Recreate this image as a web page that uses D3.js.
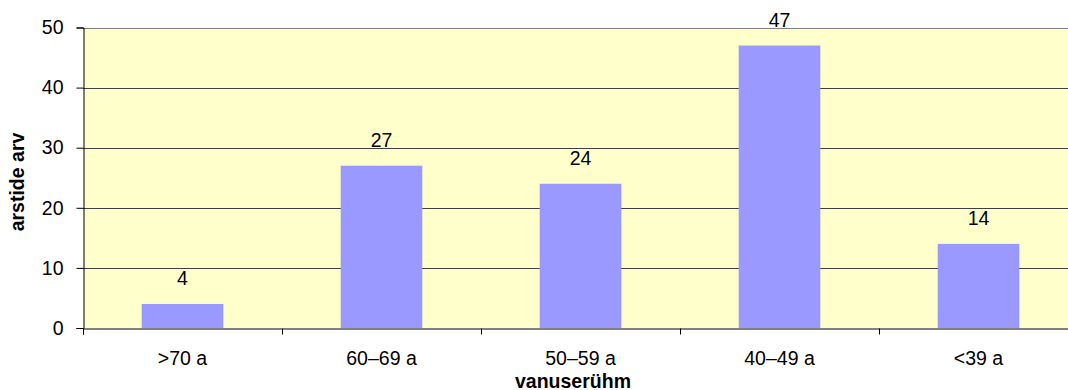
<!DOCTYPE html>
<html><head><meta charset="utf-8">
<script src="https://cdn.jsdelivr.net/npm/d3@7"></script>
<style>body{margin:0;background:#fff}svg{display:block;font-family:"Liberation Sans",Arial,sans-serif}</style>
</head><body>
<svg id="c" width="1068" height="390"></svg>
<script>
const categories = [">70 a", "60–69 a", "50–59 a", "40–49 a", "<39 a"];
const values = [4, 27, 24, 47, 14];
const yTicks = [0, 10, 20, 30, 40, 50];
const xTitle = "vanuserühm";
const yTitle = "arstide arv";

(function () {
const svg = d3.select("#c");
const FS = 19.5;
const pL = 83, pR = 1078, pT = 27.5, pB = 328;
const x = d3.scaleBand().domain(categories).range([pL, pR]).paddingInner(0.59).paddingOuter(0.295);
const y = d3.scaleLinear().domain([0, 50]).range([pB, pT]);

svg.append("rect").attr("x", pL).attr("y", pT).attr("width", pR - pL).attr("height", pB - pT).attr("fill", "#FFFFCC");

svg.append("g").selectAll("line").data(yTicks.filter(d => d > 0)).join("line")
  .attr("x1", pL).attr("x2", pR)
  .attr("y1", d => Math.round(y(d)) + 0.5).attr("y2", d => Math.round(y(d)) + 0.5)
  .attr("stroke", d => d === 50 ? "#808080" : "#404040").attr("stroke-width", 1);

svg.append("g").selectAll("rect").data(values).join("rect")
  .attr("x", (d, i) => x(categories[i])).attr("width", x.bandwidth())
  .attr("y", d => y(d)).attr("height", d => y(0) - y(d))
  .attr("fill", "#9999FF");

svg.append("g").selectAll("text").data(values).join("text")
  .attr("x", (d, i) => x(categories[i]) + x.bandwidth() / 2)
  .attr("y", d => y(d) - 19)
  .attr("text-anchor", "middle").attr("font-size", FS).attr("fill", "#000")
  .text(d => d);

const yAxis = d3.axisLeft(y).tickValues(yTicks).tickSize(7).tickPadding(13);
const gy = svg.append("g").attr("transform", `translate(${pL + 0.5},0)`).call(yAxis);
gy.select(".domain").attr("stroke", "#000");
gy.selectAll(".tick line").attr("stroke", "#000");
gy.selectAll("text").attr("font-size", FS).attr("font-family", "Liberation Sans, Arial, sans-serif").attr("fill", "#000");

const xb = d3.scalePoint().domain(d3.range(6)).range([pL, pR]);
const xAxis = d3.axisBottom(xb).tickSize(6).tickFormat("");
const gx = svg.append("g").attr("transform", `translate(0,${pB + 0.5})`).call(xAxis);
gx.select(".domain").attr("stroke", "#000");
gx.selectAll(".tick line").attr("stroke", "#000");

svg.append("g").selectAll("text").data(categories).join("text")
  .attr("x", d => x(d) + x.bandwidth() / 2).attr("y", 365)
  .attr("text-anchor", "middle").attr("font-size", FS).attr("fill", "#000")
  .text(d => d);

svg.append("text").attr("x", 573).attr("y", 388)
  .attr("text-anchor", "middle").attr("font-size", FS).attr("font-weight", "bold").text(xTitle);

svg.append("text").attr("transform", `translate(24,182) rotate(-90)`)
  .attr("text-anchor", "middle").attr("font-size", FS).attr("font-weight", "bold").text(yTitle);
})();
</script>
</body></html>
